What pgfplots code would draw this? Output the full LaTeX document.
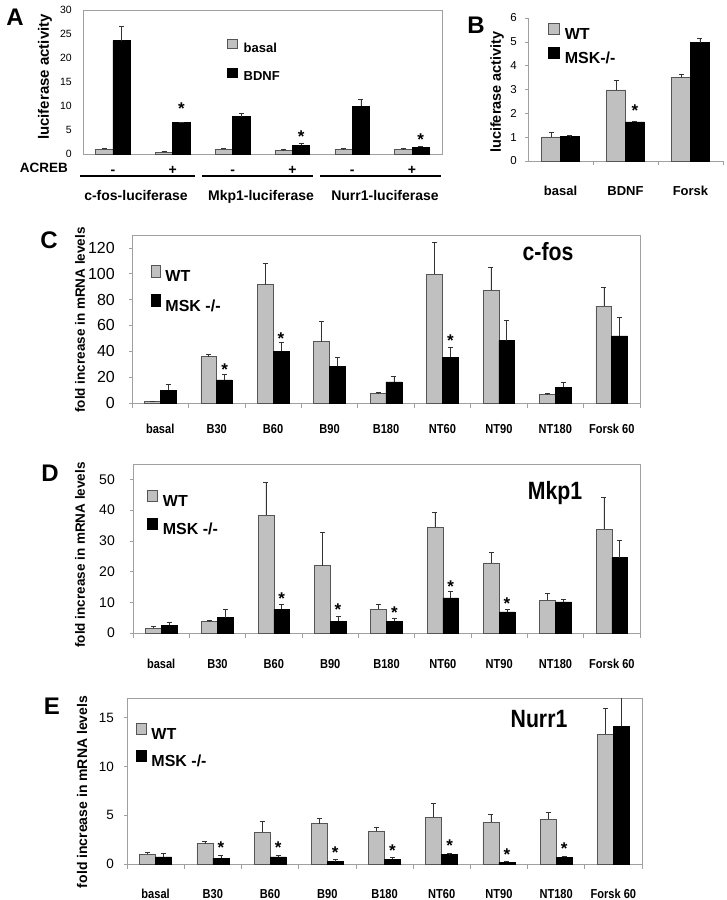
\documentclass[border=0pt]{standalone}
\usepackage{fontspec}
\setmainfont{Liberation Sans}
\newfontfamily\narrowfont[FakeStretch=0.85]{Liberation Sans}
\usepackage{pgfplots}
\pgfplotsset{compat=1.18}
\newcommand\fs[1]{\fontsize{#1}{#1}\selectfont}
\definecolor{lgray}{RGB}{192,192,192}
\definecolor{edgegray}{RGB}{85,85,85}
\definecolor{axgray}{RGB}{160,160,160}
\pgfplotsset{
  panel/.style={
    scale only axis, ymin=0, clip=true,
    axis line style={draw=axgray, line width=0.8pt},
    /pgf/number format/assume math mode=true,
    tick pos=left, tick align=outside, major tick length=3pt,
    ytick style={draw=axgray, line width=0.6pt},
    xtick style={draw=none},
    yticklabel style={inner sep=0pt, anchor=east},
    xticklabel style={inner sep=0pt, anchor=base},
    legend cell align=left,
  },
  wtbar/.style={ybar, bar shift=0pt, fill=lgray, draw=edgegray, line width=0.6pt,
    error bars/y dir=plus, error bars/y explicit,
    error bars/error bar style={black!80, line width=0.6pt},
    error bars/error mark options={rotate=90, black!80, mark size=2.5pt, line width=0.6pt}},
  kobar/.style={ybar, bar shift=0pt, fill=black, draw=black, line width=0.6pt,
    error bars/y dir=plus, error bars/y explicit,
    error bars/error bar style={black!80, line width=0.6pt},
    error bars/error mark options={rotate=90, black!80, mark size=2.5pt, line width=0.6pt}},
  stars/.style={draw=none, mark=none, forget plot, nodes near coords={*},
    every node near coord/.style={font=\bfseries\fs{17}, anchor=center, yshift=-3pt, text=black}},
}
\begin{document}
\begin{tikzpicture}
\useasboundingbox (0pt,0pt) rectangle (727pt,-900pt);

% ---------------- Panel A ----------------
\begin{axis}[panel, at={(83pt,-154pt)}, anchor=south west, width=359pt, height=144pt,
  xmin=-0.5, xmax=5.5, ymax=30, ytick={0,5,10,15,20,25,30},
  ytick style={draw=none},
  yticklabel style={font=\fs{10.5}, xshift=-8pt},
  xtick={0,1,2,3,4,5}, xticklabels={-,+,-,+,-,+},
  xticklabel style={font=\bfseries\fs{14}, yshift=-17pt},
  legend style={draw=none, fill=none, inner sep=0pt, at={(0.401,0.80)}, anchor=north west,
    row sep=12pt, font=\bfseries\fs{13}, /tikz/every odd column/.append style={column sep=4pt}},
  legend image code/.code={\draw[#1, line width=0.5pt] (0pt,0pt) rectangle (10pt,9pt);},
]
\addplot[wtbar, bar width=0.29] coordinates {
  (-0.145,1.0) +- (0,0.25) (0.855,0.4) +- (0,0.15) (1.855,1.04) +- (0,0.21)
  (2.855,0.7) +- (0,0.2) (3.855,1.04) +- (0,0.08) (4.855,0.9) +- (0,0.35)};
\addlegendentry{basal}
\addplot[kobar, bar width=0.29] coordinates {
  (0.145,23.6) +- (0,3.1) (1.145,6.6) +- (0,0) (2.145,7.8) +- (0,0.7)
  (3.145,1.8) +- (0,0.35) (4.145,9.9) +- (0,1.4) (5.145,1.4) +- (0,0.2)};
\addlegendentry{BDNF}
\addplot[stars] coordinates {(1.145,10.0) (3.145,4.2) (5.145,3.7)};
\end{axis}
\node[font=\bfseries\fs{24}] at (15pt,-17pt) {A};
\node[rotate=90, font=\bfseries\fs{15}] at (45pt,-77pt) {luciferase activity};
\node[font=\bfseries\fs{13.5}, anchor=base] at (44pt,-172pt) {ACREB};
\draw[line width=1.2pt] (80pt,-176pt) -- (195pt,-176pt);
\draw[line width=1.2pt] (202pt,-176pt) -- (313pt,-176pt);
\draw[line width=1.2pt] (320pt,-176pt) -- (441pt,-176pt);
\node[font=\bfseries\fs{14}, anchor=base] at (136pt,-200pt) {c-fos-luciferase};
\node[font=\bfseries\fs{14}, anchor=base] at (261pt,-200pt) {Mkp1-luciferase};
\node[font=\bfseries\fs{14}, anchor=base] at (385pt,-200pt) {Nurr1-luciferase};

% ---------------- Panel B ----------------
\begin{axis}[panel, at={(528pt,-161pt)}, anchor=south west, width=195pt, height=143pt,
  axis x line*=bottom, axis y line*=left,
  xmin=-0.5, xmax=2.5, ymax=6, ytick={0,1,2,3,4,5,6},
  yticklabel style={font=\fs{11.5}, xshift=-8pt},
  xtick={0,1,2}, xticklabels={basal,BDNF,Forsk},
  xticklabel style={font=\bfseries\fs{13}, yshift=-31.5pt},
  extra x ticks={0.5,1.5,2.5}, extra x tick labels={},
  extra x tick style={xtick style={draw=axgray, line width=0.6pt}, major tick length=4pt},
  legend style={draw=none, fill=none, inner sep=0pt, at={(0.103,0.965)}, anchor=north west,
    row sep=4pt, font=\bfseries\fs{16}, /tikz/every odd column/.append style={column sep=3pt}},
  legend image code/.code={\draw[#1, line width=0.5pt] (0pt,0pt) rectangle (11pt,11pt);},
]
\addplot[wtbar, bar width=0.29] coordinates {
  (-0.145,1.01) +- (0,0.21) (0.855,2.98) +- (0,0.42) (1.855,3.5) +- (0,0.14)};
\addlegendentry{WT}
\addplot[kobar, bar width=0.29] coordinates {
  (0.145,1.04) +- (0,0.03) (1.145,1.64) +- (0,0.04) (2.145,4.97) +- (0,0.18)};
\addlegendentry{MSK-/-}
\addplot[stars] coordinates {(1.145,2.25)};
\end{axis}
\node[font=\bfseries\fs{24}] at (476pt,-25pt) {B};
\node[rotate=90, font=\bfseries\fs{14.5}] at (497pt,-92pt) {luciferase activity};

% ---------------- Panel C ----------------
\begin{axis}[panel, at={(132pt,-403pt)}, anchor=south west, width=508pt, height=168pt,
  xmin=-0.5, xmax=8.5, ymax=130, ytick={0,20,40,60,80,100,120},
  yticklabel style={font=\fs{16}, xshift=-14pt},
  xtick={0,1,2,3,4,5,6,7,8},
  xticklabels={basal,B30,B60,B90,B180,NT60,NT90,NT180,Forsk 60},
  xticklabel style={font=\narrowfont\bfseries\fs{13}, yshift=-27pt},
  extra x ticks={-0.5,0.5,1.5,2.5,3.5,4.5,5.5,6.5,7.5,8.5}, extra x tick labels={},
  extra x tick style={xtick style={draw=axgray, line width=0.6pt}, major tick length=5pt},
  legend style={draw=none, fill=none, inner sep=0pt, at={(0.037,0.823)}, anchor=north west,
    row sep=9pt, font=\bfseries\fs{16}, /tikz/every odd column/.append style={column sep=3pt}},
  legend image code/.code={\draw[#1, line width=0.5pt] (0pt,0pt) rectangle (9pt,12pt);},
]
\addplot[wtbar, bar width=0.28] coordinates {
  (-0.14,1.2) +- (0,0.4) (0.86,35.8) +- (0,1.7) (1.86,91.7) +- (0,16.3) (2.86,47.4) +- (0,15.8)
  (3.86,7.3) +- (0,1.3) (4.86,99.8) +- (0,24.2) (5.86,87.3) +- (0,17.7) (6.86,6.5) +- (0,1.0)
  (7.86,74.9) +- (0,15.0)};
\addlegendentry{WT}
\addplot[kobar, bar width=0.28] coordinates {
  (0.14,9.8) +- (0,4.5) (1.14,17.9) +- (0,4.1) (2.14,39.9) +- (0,7.0) (3.14,28.5) +- (0,6.7)
  (4.14,16.3) +- (0,4.7) (5.14,35.5) +- (0,7.8) (6.14,48.2) +- (0,16.1) (7.14,12.2) +- (0,4.1)
  (8.14,52.0) +- (0,14.3)};
\addlegendentry{MSK -/-}
\addplot[stars] coordinates {(1.14,28) (2.14,52) (5.14,50.5)};
\end{axis}
\node[font=\bfseries\fs{24}] at (49pt,-240pt) {C};
\node[rotate=90, font=\bfseries\fs{13.5}] at (80pt,-320pt) {fold increase in mRNA levels};
\node[font=\narrowfont\bfseries\fs{25}, anchor=base] at (548pt,-260pt) {c-fos};

% ---------------- Panel D ----------------
\begin{axis}[panel, at={(133pt,-633pt)}, anchor=south west, width=507pt, height=169pt,
  xmin=-0.5, xmax=8.5, ymax=55, ytick={0,10,20,30,40,50},
  yticklabel style={font=\fs{14}, xshift=-15pt},
  xtick={0,1,2,3,4,5,6,7,8},
  xticklabels={basal,B30,B60,B90,B180,NT60,NT90,NT180,Forsk 60},
  xticklabel style={font=\narrowfont\bfseries\fs{13}, yshift=-32pt},
  extra x ticks={-0.5,0.5,1.5,2.5,3.5,4.5,5.5,6.5,7.5,8.5}, extra x tick labels={},
  extra x tick style={xtick style={draw=axgray, line width=0.6pt}, major tick length=5pt},
  legend style={draw=none, fill=none, inner sep=0pt, at={(0.028,0.846)}, anchor=north west,
    row sep=8pt, font=\bfseries\fs{16}, /tikz/every odd column/.append style={column sep=3pt}},
  legend image code/.code={\draw[#1, line width=0.5pt] (0pt,0pt) rectangle (10pt,11pt);},
]
\addplot[wtbar, bar width=0.28] coordinates {
  (-0.14,1.6) +- (0,0.7) (0.86,3.9) +- (0,0.1) (1.86,38.3) +- (0,10.6) (2.86,21.9) +- (0,11.0)
  (3.86,7.8) +- (0,1.5) (4.86,34.4) +- (0,4.8) (5.86,22.8) +- (0,3.5) (6.86,10.7) +- (0,2.1)
  (7.86,33.8) +- (0,10.4)};
\addlegendentry{WT}
\addplot[kobar, bar width=0.28] coordinates {
  (0.14,2.6) +- (0,0.8) (1.14,5.0) +- (0,2.8) (2.14,7.7) +- (0,1.7) (3.14,3.9) +- (0,1.5)
  (4.14,3.9) +- (0,1.0) (5.14,11.4) +- (0,2.2) (6.14,6.9) +- (0,0.9) (7.14,10.1) +- (0,0.9)
  (8.14,24.5) +- (0,5.8)};
\addlegendentry{MSK -/-}
\addplot[stars] coordinates {(2.14,12.3) (3.14,8.7) (4.14,7.6) (5.14,16.2) (6.14,10.6)};
\end{axis}
\node[font=\bfseries\fs{24}] at (50pt,-473pt) {D};
\node[rotate=90, font=\bfseries\fs{13.5}] at (80pt,-555pt) {fold increase in mRNA levels};
\node[font=\narrowfont\bfseries\fs{25}, anchor=base] at (555pt,-499pt) {Mkp1};

% ---------------- Panel E ----------------
\begin{axis}[panel, at={(127pt,-864pt)}, anchor=south west, width=515pt, height=166pt,
  xmin=-0.5, xmax=8.5, ymax=17, ytick={0,5,10,15},
  yticklabel style={font=\fs{13.5}, xshift=-10pt},
  xtick={0,1,2,3,4,5,6,7,8},
  xticklabels={basal,B30,B60,B90,B180,NT60,NT90,NT180,Forsk 60},
  xticklabel style={font=\narrowfont\bfseries\fs{13}, yshift=-31pt},
  extra x ticks={-0.5,0.5,1.5,2.5,3.5,4.5,5.5,6.5,7.5,8.5}, extra x tick labels={},
  extra x tick style={xtick style={draw=axgray, line width=0.6pt}, major tick length=5pt},
  legend style={draw=none, fill=none, inner sep=0pt, at={(0.017,0.849)}, anchor=north west,
    row sep=7pt, font=\bfseries\fs{16}, /tikz/every odd column/.append style={column sep=3pt}},
  legend image code/.code={\draw[#1, line width=0.5pt] (0pt,0pt) rectangle (10pt,11pt);},
]
\addplot[wtbar, bar width=0.28] coordinates {
  (-0.14,1.0) +- (0,0.2) (0.86,2.1) +- (0,0.2) (1.86,3.24) +- (0,1.12) (2.86,4.13) +- (0,0.57)
  (3.86,3.34) +- (0,0.44) (4.86,4.8) +- (0,1.44) (5.86,4.26) +- (0,0.79) (6.86,4.6) +- (0,0.7)
  (7.86,13.3) +- (0,2.6)};
\addlegendentry{WT}
\addplot[kobar, bar width=0.28] coordinates {
  (0.14,0.72) +- (0,0.38) (1.14,0.61) +- (0,0.31) (2.14,0.72) +- (0,0.2) (3.14,0.24) +- (0,0.24)
  (4.14,0.51) +- (0,0.17) (5.14,0.95) +- (0,0.14) (6.14,0.17) +- (0,0.1) (7.14,0.68) +- (0,0.1)
  (8.14,14.1) +- (0,3.5)};
\addlegendentry{MSK -/-}
\addplot[stars] coordinates {(1.14,1.98) (2.14,1.98) (3.14,1.47) (4.14,1.7) (5.14,2.15) (6.14,1.3) (7.14,1.88)};
\end{axis}
\node[font=\bfseries\fs{24}] at (52pt,-706pt) {E};
\node[rotate=90, font=\bfseries\fs{14}] at (82pt,-792pt) {fold increase in mRNA levels};
\node[font=\narrowfont\bfseries\fs{25}, anchor=base] at (539pt,-727pt) {Nurr1};
\end{tikzpicture}
\end{document}
